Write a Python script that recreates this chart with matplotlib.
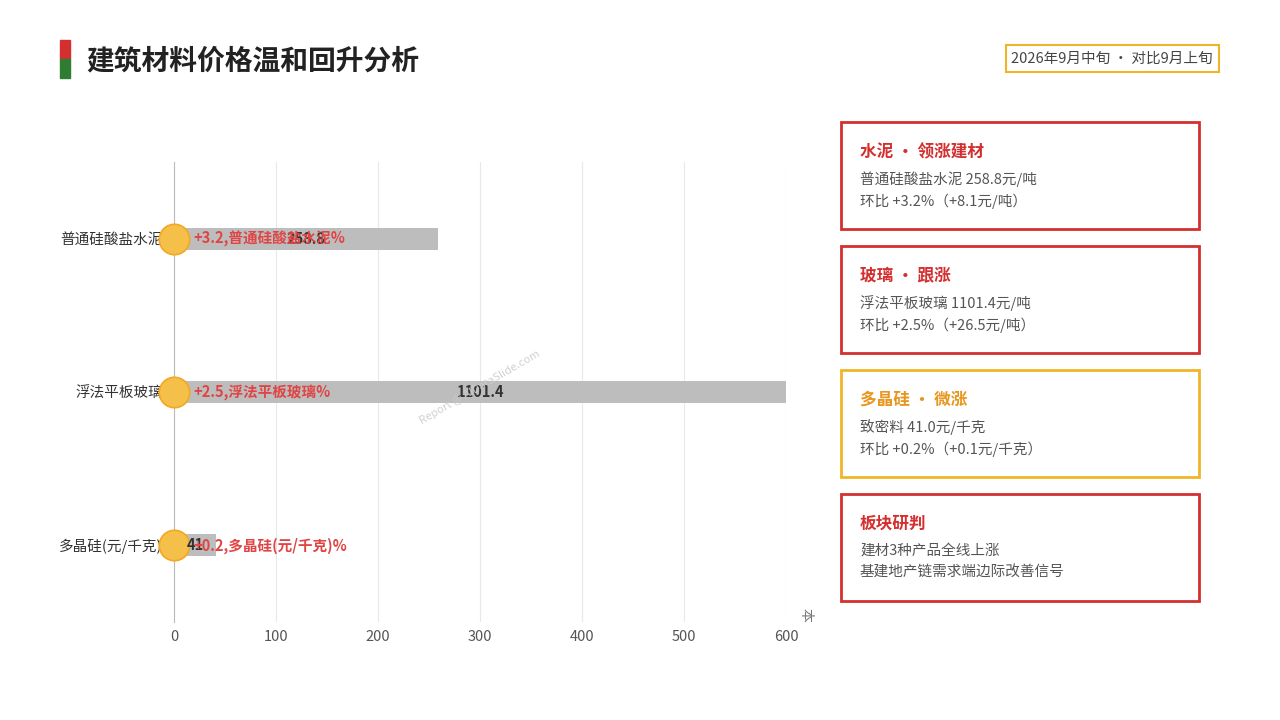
import matplotlib
matplotlib.use("Agg")
import matplotlib.pyplot as plt
from matplotlib.patches import Rectangle

plt.rcParams['font.family'] = ['Noto Sans CJK SC', 'DejaVu Sans']

categories = ["普通硅酸盐水泥", "浮法平板玻璃", "多晶硅(元/千克)"]
prices = [258.8, 1101.4, 41]
changes = ["+3.2", "+2.5", "+0.2"]
price_labels = ["258.8", "1101.4", "41"]
xticks = [0, 100, 200, 300, 400, 500, 600]

card_titles = ["水泥·领涨建材", "玻璃·跟涨", "多晶硅·微涨", "板块研判"]
card_lines = [["普通硅酸盐水泥 258.8元/吨", "环比 +3.2%（+8.1元/吨）"],
              ["浮法平板玻璃 1101.4元/吨", "环比 +2.5%（+26.5元/吨）"],
              ["致密料 41.0元/千克", "环比 +0.2%（+0.1元/千克）"],
              ["建材3种产品全线上涨", "基建地产链需求端边际改善信号"]]
card_colors = ["#d32f2f", "#d32f2f", "#f0b429", "#d32f2f"]
title_colors = ["#d32f2f", "#d32f2f", "#e8961e", "#d32f2f"]

W, H = 1280, 720
fig = plt.figure(figsize=(12.8, 7.2), dpi=100)
fig.patch.set_facecolor("white")

def fx(px): return px / W
def fy(py): return 1 - py / H

# title
fig.patches.append(Rectangle((fx(60), fy(59)), fx(10), 19 / H, transform=fig.transFigure, color="#d32f2f"))
fig.patches.append(Rectangle((fx(60), fy(78)), fx(10), 19 / H, transform=fig.transFigure, color="#2e7d32"))
fig.text(fx(86), fy(61), "建筑材料价格温和回升分析", fontsize=20, fontweight="bold", color="#222222", va="center")
fig.patches.append(Rectangle((fx(1006), fy(72)), fx(213), 27 / H, transform=fig.transFigure,
                             fill=False, edgecolor="#f0b429", lw=1.5))
fig.text(fx(1112), fy(59), "2026年9月中旬 · 对比9月上旬", fontsize=10.5, color="#444444", ha="center", va="center")

# chart
ax = fig.add_axes([fx(174), fy(622), fx(786) - fx(174), (622 - 162) / H])
y = list(range(len(categories)))
ax.barh(y, prices, height=0.145, color="#bdbdbd", zorder=2)
ax.set_xlim(0, 600)
ax.set_ylim(2.5, -0.5)
ax.set_xticks(xticks)
ax.set_xticklabels([str(t) for t in xticks], fontsize=10.5, color="#555555")
ax.set_yticks(y)
ax.set_yticklabels(categories, fontsize=10.5, color="#333333")
ax.tick_params(length=0, pad=6)
ax.tick_params(axis='y', pad=8)
ax.grid(axis="x", color="#e8e8e8", lw=0.8, zorder=0)
for s in ["top", "right", "bottom"]:
    ax.spines[s].set_visible(False)
ax.spines["left"].set_color("#bbbbbb")
ax.scatter([0] * len(y), y, s=480, color="#f5c04a", edgecolor="#f5a623", lw=1.2, zorder=4, clip_on=False)
for i in y:
    ax.text(min(prices[i], 600) / 2, i, price_labels[i], fontsize=10.5, fontweight="bold",
            color="#333333", ha="center", va="center", zorder=5)
    ax.text(19, i, f"{changes[i]},{categories[i]}%", fontsize=10.5, fontweight="bold",
            color="#e04444", ha="left", va="center", zorder=6)
ax.text(1.02, 0.0, "本", transform=ax.transAxes, fontsize=10, color="#777777", rotation=-90, va="bottom")
ax.text(0.5, 0.51, "Report @ AIDataSlide.com", transform=ax.transAxes, fontsize=8, color="#cccccc",
        rotation=30, ha="center", va="center", alpha=0.9, zorder=7, fontstyle="italic")

# cards
tops = [122, 246, 370, 494]
for k, t in enumerate(tops):
    fig.patches.append(Rectangle((fx(841), fy(t + 107)), fx(358), 107 / H, transform=fig.transFigure,
                                 fill=False, edgecolor=card_colors[k], lw=2))
    fig.text(fx(860), fy(t + 30), card_titles[k].replace("·", " • "), fontsize=12, fontweight="bold",
             color=title_colors[k], va="center")
    for j, line in enumerate(card_lines[k]):
        fig.text(fx(860), fy(t + 57 + 22 * j), line, fontsize=10.5, color="#555555", va="center")

fig.savefig("out.png", dpi=100)
